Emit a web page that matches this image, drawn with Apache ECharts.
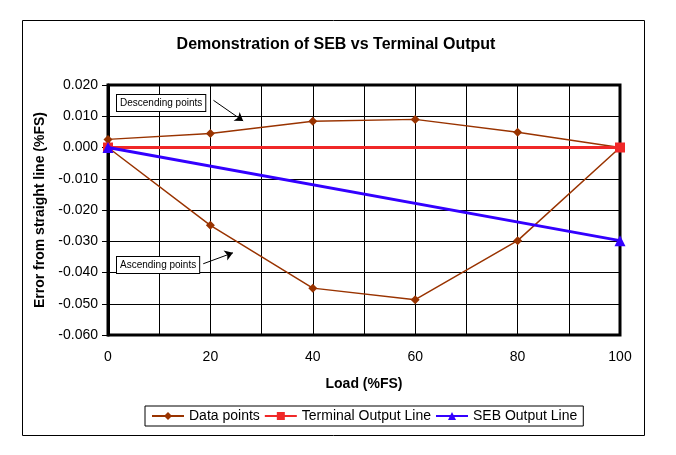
<!DOCTYPE html>
<html>
<head>
<meta charset="utf-8">
<script src="https://cdn.jsdelivr.net/npm/echarts@6/dist/echarts.min.js"></script>
<style>
  html, body { margin: 0; padding: 0; background: #fff; }
  #main { width: 676px; height: 455px; }
</style>
</head>
<body>
<div id="main"></div>
<script>
// load points, ascending run then descending run
const loadPoints = [0, 20, 40, 60, 80, 100, 80, 60, 40, 20, 0];
const errorPoints = [0, -0.0249, -0.045, -0.0487, -0.0298, 0, 0.0049, 0.009, 0.0084, 0.0045, 0.0026];
// terminal and SEB straight lines
const terminalLoad = [0, 100];
const terminalError = [0, 0];
const sebLoad = [0, 100];
const sebError = [0, -0.0298];
const seriesNames = ['Data points', 'Terminal Output Line', 'SEB Output Line'];

const font = 'Arial, "Liberation Sans", sans-serif';
const pair = (xs, ys) => xs.map((x, i) => [x, ys[i]]);

const chartDom = document.getElementById('main');
const myChart = echarts.init(chartDom);

const option = {
  animation: false,
  backgroundColor: '#fff',
  title: {
    text: 'Demonstration of SEB vs Terminal Output',
    left: 331,
    top: 32,
    textAlign: 'center',
    textStyle: { fontFamily: font, fontSize: 16, fontWeight: 'bold', color: '#000' }
  },
  legend: {
    data: seriesNames,
    left: 145,
    top: 406,
    borderColor: '#000',
    borderWidth: 1,
    borderRadius: 0,
    padding: [3, 6, 3, 6],
    itemGap: 4,
    itemWidth: 32,
    itemHeight: 10,
    textStyle: { fontFamily: font, fontSize: 14, color: '#000' }
  },
  grid: {
    left: 108, right: 56, top: 85, bottom: 120,
    show: true,
    borderColor: '#000',
    borderWidth: 3
  },
  xAxis: {
    type: 'value',
    min: 0, max: 100, interval: 20,
    name: 'Load (%FS)',
    nameLocation: 'middle',
    nameGap: 42,
    nameTextStyle: { fontFamily: font, fontSize: 14, fontWeight: 'bold', color: '#000' },
    axisLine: { show: true, lineStyle: { color: '#000', width: 3 } },
    axisTick: { show: true, length: 6, lineStyle: { color: '#000' } },
    axisLabel: { fontFamily: font, fontSize: 14, color: '#000', margin: 15 },
    splitLine: { show: true, lineStyle: { color: '#000', width: 1 } },
    minorTick: { show: false, splitNumber: 2 },
    minorSplitLine: { show: true, lineStyle: { color: '#000', width: 1 } }
  },
  yAxis: {
    type: 'value',
    min: -0.06, max: 0.02, interval: 0.01,
    name: 'Error from straight line (%FS)',
    nameLocation: 'middle',
    nameGap: 55,
    nameTextStyle: { fontFamily: font, fontSize: 14, fontWeight: 'bold', color: '#000' },
    axisLine: { show: true, lineStyle: { color: '#000', width: 3 } },
    axisTick: { show: true, length: 6, lineStyle: { color: '#000' } },
    axisLabel: {
      fontFamily: font, fontSize: 14, color: '#000', margin: 10,
      formatter: v => v.toFixed(3)
    },
    splitLine: { show: true, lineStyle: { color: '#000', width: 1 } }
  },
  graphic: [
    {
      type: 'rect', left: 20, top: 18, z: -1,
      shape: { width: 622, height: 415 },
      style: { fill: 'none', stroke: '#000', lineWidth: 1 }
    },
    {
      type: 'text', left: 116, top: 94, z: 10,
      style: {
        text: 'Descending points', font: '10px ' + font, fill: '#000',
        backgroundColor: '#fff', borderColor: '#000', borderWidth: 1, padding: [3, 3]
      }
    },
    {
      type: 'text', left: 116, top: 256, z: 10,
      style: {
        text: 'Ascending points', font: '10px ' + font, fill: '#000',
        backgroundColor: '#fff', borderColor: '#000', borderWidth: 1, padding: [3, 3]
      }
    }
  ],
  series: [
    {
      name: seriesNames[0],
      type: 'line',
      data: pair(loadPoints, errorPoints),
      symbol: 'diamond',
      symbolSize: 9,
      z: 3,
      itemStyle: { color: '#993300' },
      lineStyle: { color: '#993300', width: 1.5 },
      markLine: {
        silent: true,
        symbol: ['none', 'arrow'],
        symbolSize: 8,
        label: { show: false },
        lineStyle: { color: '#000', width: 1, type: 'solid' },
        itemStyle: { color: '#000' },
        data: [
          [{ coord: [20.6, 0.0151] }, { coord: [26.4, 0.0085] }],
          [{ coord: [18.6, -0.0372] }, { coord: [24.4, -0.0337] }]
        ]
      }
    },
    {
      name: seriesNames[1],
      type: 'line',
      data: pair(terminalLoad, terminalError),
      symbol: 'rect',
      symbolSize: 10,
      z: 4,
      itemStyle: { color: '#f02828' },
      lineStyle: { color: '#f02828', width: 3 }
    },
    {
      name: seriesNames[2],
      type: 'line',
      data: pair(sebLoad, sebError),
      symbol: 'triangle',
      symbolSize: 11,
      z: 5,
      itemStyle: { color: '#3300ff' },
      lineStyle: { color: '#3300ff', width: 3 }
    }
  ]
};

option && myChart.setOption(option);
</script>
</body>
</html>
